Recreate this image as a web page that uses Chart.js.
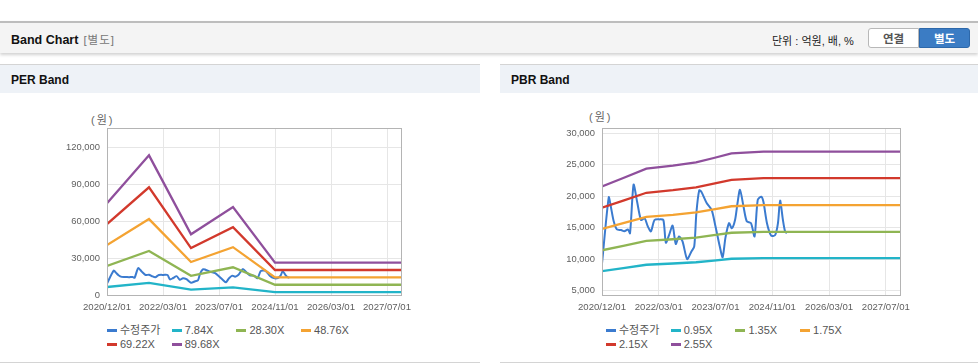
<!DOCTYPE html>
<html>
<head>
<meta charset="utf-8">
<script src="https://cdn.jsdelivr.net/npm/chart.js@4.4.1/dist/chart.umd.min.js"></script>
<style>
  body { margin: 0; width: 978px; height: 364px; position: relative; overflow: hidden; background: #fff;
         font-family: "Liberation Sans", "Noto Sans CJK KR", sans-serif; }
  #bar { position: absolute; left: 0; top: 21px; width: 978px; height: 30px; border-top: 2px solid #bdbdbd;
         background: #f4f4f4; box-shadow: 0 2px 3px rgba(0,0,0,0.18); }
  #bar .title { position: absolute; left: 11px; top: 8px; font-size: 12.5px; font-weight: bold; color: #111; }
  #bar .title span { font-weight: normal; color: #777; margin-left: 5px; font-size: 11.5px; letter-spacing: 1px; }
  #bar .unit { position: absolute; left: 772px; top: 9px; font-size: 11px; color: #222; }
  .btn { position: absolute; top: 5px; height: 20px; line-height: 20px; width: 51px; text-align: center;
         font-size: 11.5px; font-weight: bold; box-sizing: border-box; }
  .btn.off { left: 868px; background: #fff; color: #555; border: 1px solid #b8b8b8; border-radius: 3px 0 0 3px; }
  .btn.on { left: 919px; background: #3b7cc4; color: #fff; border: 1px solid #2d68aa; border-radius: 0 3px 3px 0; }
  .panel { position: absolute; top: 64px; height: 297px; border-top: 1px solid #d4d4d4; border-bottom: 1px solid #d4d4d4; }
  .panel .head { height: 28px; background: #eef2f7; font-size: 12px; font-weight: bold; color: #111;
                 line-height: 30px; padding-left: 11px; }
  .unitlabel { position: absolute; top: 111px; font-size: 11px; color: #666; letter-spacing: 2px; }
  canvas { position: absolute; }
  .legend { position: absolute; font-size: 11px; color: #555; width: 270px; }
  .legend .item { display: inline-block; width: 64.7px; height: 14px; line-height: 14px; white-space: nowrap; }
  .legend .mark { display: inline-block; width: 10px; height: 3px; vertical-align: middle; margin-right: 3px; position: relative; top: -1px; }
</style>
</head>
<body>

<div id="bar">
  <div class="title">Band Chart<span>[별도]</span></div>
  <div class="unit">단위 : 억원, 배, %</div>
  <div class="btn off">연결</div>
  <div class="btn on">별도</div>
</div>

<div class="panel" style="left:0;width:480px;"><div class="head">PER Band</div></div>
<div class="panel" style="left:500px;width:478px;"><div class="head">PBR Band</div></div>

<div class="unitlabel" style="left:91px;">(원)</div>
<div class="unitlabel" style="left:589px;top:108px;">(원)</div>

<canvas id="perChart" width="380" height="220" style="left:40px;top:100px;"></canvas>
<canvas id="pbrChart" width="380" height="220" style="left:540px;top:100px;"></canvas>

<div class="legend" id="perLegend" style="left:107px;top:323px;"></div>
<div class="legend" id="pbrLegend" style="left:606px;top:323px;"></div>

<script>
// x axis: months counted from 2020/12/01
const tickMonths = [0, 16, 32, 48, 64, 80];
const tickLabels = ['2020/12/01', '2022/03/01', '2023/07/01', '2024/11/01', '2026/03/01', '2027/07/01'];
const lastMonth = 84;

// adjusted share price (수정주가)
const priceMonths = [0, 1.9, 2.5, 3.3, 4.2, 5.4, 6.3, 7.3, 7.9, 8.9, 9.9, 11, 12, 12.9, 13.8, 14.8, 16.2, 17.3,
  18, 18.9, 19.9, 20.8, 21.7, 22.7, 24, 25.2, 26, 26.6, 27.4, 28, 29.5, 30.9, 31.8, 33.2, 34.0, 34.8,
  35.8, 36.6, 37.5, 38.2, 38.9, 39.9, 40.8, 42, 43, 43.9, 44.9, 45.5, 46.5, 47.7, 48.8, 49.6, 50.2, 51, 51.6, 52.1];
const priceValues = [9300, 19800, 18300, 16000, 14700, 14600, 14400, 14700, 14100, 21800, 19100, 16200, 16500, 15200, 14400, 16200, 16300, 16200,
  12600, 13800, 15300, 12400, 13600, 12800, 10000, 11200, 12000, 17300, 20900, 20700, 18900, 17800, 15700, 12000, 10300, 13400,
  15700, 14900, 16200, 18900, 21000, 18300, 16000, 15700, 13600, 19400, 19900, 19100, 15700, 13700, 13800, 15700, 19300, 16200, 14400, 14100];

// PER band lines
const perMonths = [0, 12, 24, 36, 48, 84];
const perLabels = ['7.84X', '28.30X', '48.76X', '69.22X', '89.68X'];
const per784 = [6500, 9900, 4300, 6200, 2300, 2300];
const per2830 = [23500, 35700, 15600, 22500, 8300, 8300];
const per4876 = [40500, 61600, 26800, 38800, 14300, 14300];
const per6922 = [57600, 87400, 38100, 55000, 20300, 20300];
const per8968 = [74500, 113300, 49300, 71300, 26300, 26300];
const perTicks = [0, 30000, 60000, 90000, 120000];

// PBR band lines
const pbrMonths = [0, 6, 12.5, 20, 26.5, 31.5, 36.5, 45.5, 84];
const pbrLabels = ['0.95X', '1.35X', '1.75X', '2.15X', '2.55X'];
const pbr095 = [8100, 8550, 9100, 9300, 9500, 9750, 10050, 10150, 10150];
const pbr135 = [11400, 12100, 12900, 13150, 13420, 13800, 14180, 14320, 14320];
const pbr175 = [14800, 15700, 16700, 17030, 17400, 17880, 18380, 18560, 18560];
const pbr215 = [18150, 19280, 20520, 20930, 21380, 21960, 22580, 22850, 22850];
const pbr255 = [21530, 22860, 24340, 24820, 25340, 26040, 26770, 27040, 27040];
const pbrTicks = [5000, 10000, 15000, 20000, 25000, 30000];

const priceLabel = '수정주가';
const colors = ['#3b7bcf', '#22b4c8', '#8fb553', '#f4a332', '#d2392c', '#8f4f9c'];

const toPoints = (xs, ys) => xs.map((x, i) => ({ x: x, y: ys[i] }));

const frame = {
  id: 'frame',
  afterDatasetsDraw(chart) {
    const a = chart.chartArea, ctx = chart.ctx;
    ctx.save();
    ctx.strokeStyle = '#b4b4b4';
    ctx.lineWidth = 1;
    ctx.strokeRect(Math.round(a.left) + 0.5, Math.round(a.top) + 0.5, Math.round(a.right - a.left), Math.round(a.bottom - a.top));
    ctx.restore();
  }
};

function makeChart(id, bandMonths, bandSets, bandLabels, yMin, yMax, yTicks, yWidth, padRight) {
  const datasets = [{
    label: priceLabel,
    data: toPoints(priceMonths, priceValues),
    borderColor: colors[0],
    borderWidth: 2,
    tension: 0.25,
    order: 1
  }];
  bandSets.forEach((vals, i) => {
    datasets.push({
      label: bandLabels[i],
      data: toPoints(bandMonths, vals),
      borderColor: colors[i + 1],
      borderWidth: 2.3,
      tension: 0,
      order: 0
    });
  });

  return new Chart(document.getElementById(id), {
    type: 'line',
    data: { datasets: datasets },
    options: {
      responsive: false,
      animation: false,
      events: [],
      elements: { point: { radius: 0 } },
      layout: { padding: { top: 28, right: padRight, left: 0, bottom: 0 } },
      plugins: { legend: { display: false }, tooltip: { enabled: false } },
      scales: {
        x: {
          type: 'linear',
          min: 0,
          max: lastMonth,
          afterBuildTicks: s => { s.ticks = tickMonths.map(v => ({ value: v })); },
          afterFit: s => { s.height = 25; },
          ticks: {
            callback: v => tickLabels[tickMonths.indexOf(v)],
            color: '#5f5f5f',
            font: { size: 9.6, family: 'Liberation Sans' },
            padding: 7,
            maxRotation: 0,
            autoSkip: false
          },
          grid: { color: '#e6e6e6', drawTicks: false },
          border: { display: false }
        },
        y: {
          min: yMin,
          max: yMax,
          afterBuildTicks: s => { s.ticks = yTicks.map(v => ({ value: v })); },
          afterFit: s => { s.width = yWidth; },
          ticks: {
            callback: v => v.toLocaleString('en-US'),
            color: '#5f5f5f',
            font: { size: 9.4, family: 'Liberation Sans' },
            padding: 7
          },
          grid: { color: '#e6e6e6', drawTicks: false },
          border: { display: false }
        }
      }
    },
    plugins: [frame]
  });
}

makeChart('perChart', perMonths, [per784, per2830, per4876, per6922, per8968], perLabels, 0, 135500, perTicks, 67, 19);
makeChart('pbrChart', pbrMonths, [pbr095, pbr135, pbr175, pbr215, pbr255], pbrLabels, 4300, 30800, pbrTicks, 62, 20);

function buildLegend(id, bandLabels) {
  const names = [priceLabel].concat(bandLabels);
  document.getElementById(id).innerHTML = names.map((n, i) =>
    '<span class="item"><span class="mark" style="background:' + colors[i] + '"></span>' + n + '</span>'
  ).join('');
}
buildLegend('perLegend', perLabels);
buildLegend('pbrLegend', pbrLabels);
</script>
</body>
</html>
